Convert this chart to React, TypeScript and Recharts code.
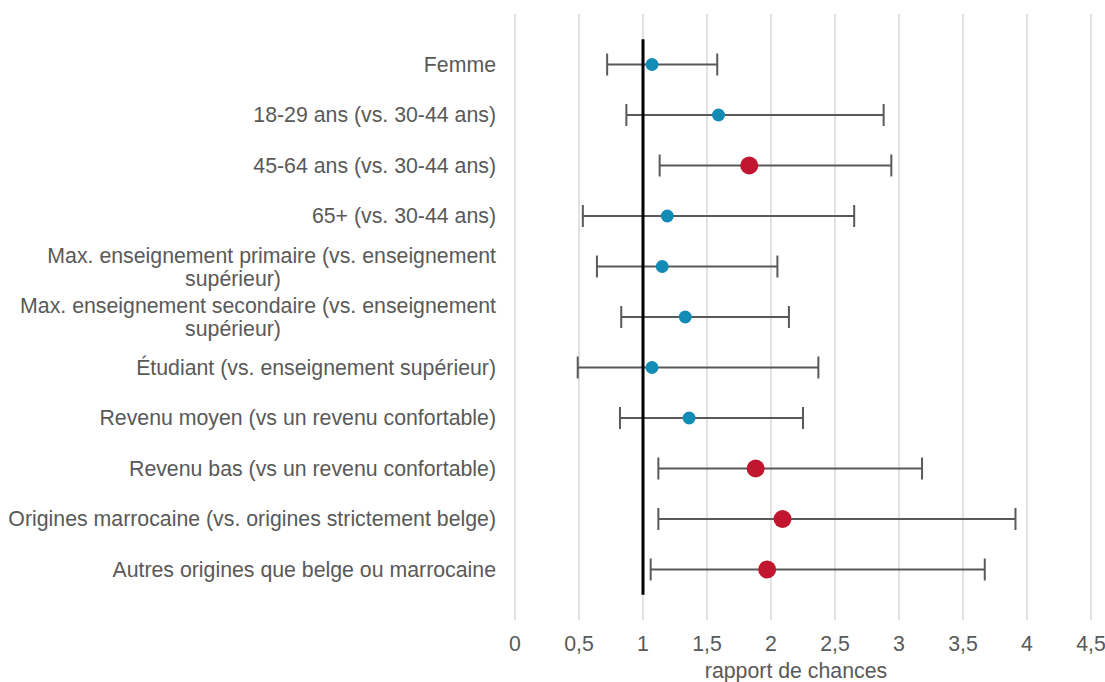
import React from "react";
import {
  ScatterChart,
  Scatter,
  XAxis,
  YAxis,
  CartesianGrid,
  ErrorBar,
  Label,
} from "recharts";

const categories = [
  ["Femme"],
  ["18-29 ans (vs. 30-44 ans)"],
  ["45-64 ans (vs. 30-44 ans)"],
  ["65+ (vs. 30-44 ans)"],
  ["Max. enseignement primaire (vs. enseignement", "supérieur)"],
  ["Max. enseignement secondaire (vs. enseignement", "supérieur)"],
  ["Étudiant (vs. enseignement supérieur)"],
  ["Revenu moyen (vs un revenu confortable)"],
  ["Revenu bas (vs un revenu confortable)"],
  ["Origines marrocaine (vs. origines strictement belge)"],
  ["Autres origines que belge ou marrocaine"],
];

const oddsRatio = [1.07, 1.59, 1.83, 1.19, 1.15, 1.33, 1.07, 1.36, 1.88, 2.09, 1.97];
const ciLow = [0.72, 0.87, 1.13, 0.53, 0.64, 0.83, 0.49, 0.82, 1.12, 1.12, 1.06];
const ciHigh = [1.58, 2.88, 2.94, 2.65, 2.05, 2.14, 2.37, 2.25, 3.18, 3.91, 3.67];
const significant = [false, false, true, false, false, false, false, false, true, true, true];

const xTicks = [0, 0.5, 1, 1.5, 2, 2.5, 3, 3.5, 4, 4.5];
const rowTicks = categories.map((_, i) => i + 1);

// vertical line at OR = 1
const refLine = [
  { x: 1, y: 0.5 },
  { x: 1, y: 11.5 },
];

const rows = categories.map((_, i) => ({
  x: oddsRatio[i],
  y: i + 1,
  err: [oddsRatio[i] - ciLow[i], ciHigh[i] - oddsRatio[i]],
}));
const nonSig = rows.filter((_, i) => !significant[i]);
const sig = rows.filter((_, i) => significant[i]);

const FONT = "'Liberation Sans', Arial, sans-serif";
const TEXT = "#595959";
const FS = 21.3;

function CategoryTick(props: any) {
  const { x, y, payload } = props;
  const lines = categories[payload.value - 1] || [];
  if (lines.length === 1) {
    return (
      <text x={x} y={y} dy="0.35em" textAnchor="end" fontSize={FS} fill={TEXT} fontFamily={FONT}>
        {lines[0]}
      </text>
    );
  }
  return (
    <g>
      <text x={x} y={y - 11} dy="0.35em" textAnchor="end" fontSize={FS} fill={TEXT} fontFamily={FONT}>
        {lines[0]}
      </text>
      <text x={x - 263} y={y + 12} dy="0.35em" textAnchor="middle" fontSize={FS} fill={TEXT} fontFamily={FONT}>
        {lines[1]}
      </text>
    </g>
  );
}

const dot = (r: number, fill: string) => (p: any) =>
  <circle cx={p.cx} cy={p.cy} r={r} fill={fill} />;

export default function App() {
  return (
    <div style={{ position: "absolute", left: 0, top: 0, background: "#fff" }}>
      <ScatterChart width={1105} height={682} margin={{ top: 14, right: 14, bottom: 8, left: 0 }}>
        <CartesianGrid vertical horizontal={false} stroke="#D9D9D9" strokeWidth={1.5} />
        <XAxis
          type="number"
          dataKey="x"
          domain={[0, 4.5]}
          ticks={xTicks}
          tickFormatter={(v: number) => String(v).replace(".", ",")}
          axisLine={false}
          tickLine={false}
          tickMargin={10}
          height={54}
          tick={{ fontSize: FS, fill: TEXT, fontFamily: FONT }}
        >
          <Label
            value="rapport de chances"
            position="insideBottom"
            offset={-4}
            dx={-7}
            style={{ fontSize: FS, fill: TEXT, fontFamily: FONT }}
          />
        </XAxis>
        <YAxis
          type="number"
          dataKey="y"
          domain={[0, 12]}
          reversed
          ticks={rowTicks}
          interval={0}
          width={515}
          axisLine={false}
          tickLine={false}
          tickSize={0}
          tickMargin={19}
          tick={<CategoryTick />}
        />
        <Scatter
          data={refLine}
          line={{ stroke: "#000", strokeWidth: 3 }}
          shape={() => <g />}
          isAnimationActive={false}
        />
        <Scatter data={nonSig} shape={dot(6.5, "#128CB5")} isAnimationActive={false}>
          <ErrorBar dataKey="err" direction="x" width={11} stroke="#595959" strokeWidth={2} />
        </Scatter>
        <Scatter data={sig} shape={dot(9, "#C0162F")} isAnimationActive={false}>
          <ErrorBar dataKey="err" direction="x" width={11} stroke="#595959" strokeWidth={2} />
        </Scatter>
      </ScatterChart>
    </div>
  );
}
